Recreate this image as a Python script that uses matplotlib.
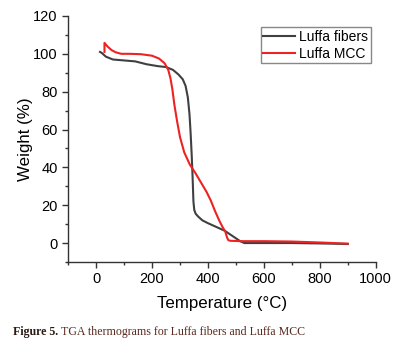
import matplotlib
matplotlib.use("Agg")
import matplotlib.pyplot as plt
from matplotlib.ticker import MultipleLocator

plt.rcParams['font.family'] = ['Liberation Sans', 'DejaVu Sans']

# Luffa fibers
fib_T = [14, 20, 35, 60, 100, 140, 180, 220, 250, 275, 295, 310, 320, 328, 334, 338, 342,
         345, 348, 351, 356, 365, 380, 400, 430, 460, 480, 500, 515, 530, 600, 700, 800, 900]
fib_W = [101, 100.5, 98.5, 97, 96.5, 96, 94.5, 93.5, 93, 91.5, 89, 86.5, 83, 77, 68, 58, 46,
         35, 22, 17.5, 15.5, 14, 12, 10.5, 8.5, 6.5, 4.5, 2.5, 1, 0, 0, 0, -0.2, -0.5]

# Luffa MCC
mcc_T = [30, 30, 40, 55, 70, 90, 120, 160, 200, 225, 245, 258, 266, 273, 280, 290, 300,
         315, 335, 355, 375, 395, 410, 425, 440, 452, 462, 468, 473, 480, 520, 600, 700, 800, 900]
mcc_W = [101, 105.8, 104, 102, 100.8, 100, 100, 99.8, 99, 97.5, 95, 91.5, 87, 81, 73, 64, 56,
         48, 41.5, 37, 32, 27, 22.5, 17, 12, 8.5, 6, 3, 1.5, 1.2, 1, 1, 0.8, 0.3, -0.3]

fig = plt.figure(figsize=(3.96, 3.47), dpi=100)
ax = fig.add_axes([0.172, 0.245, 0.777, 0.709])

ax.plot(fib_T, fib_W, color='#404040', lw=1.5, label='Luffa fibers')
ax.plot(mcc_T, mcc_W, color='#ee2222', lw=1.5, label='Luffa MCC')

ax.set_xlim(-100, 1000)
ax.set_ylim(-10, 120)
ax.xaxis.set_major_locator(MultipleLocator(200))
ax.xaxis.set_minor_locator(MultipleLocator(100))
ax.yaxis.set_major_locator(MultipleLocator(20))
ax.yaxis.set_minor_locator(MultipleLocator(10))
for s in ['top', 'right']:
    ax.spines[s].set_visible(False)
for s in ['left', 'bottom']:
    ax.spines[s].set_color('#333333')
    ax.spines[s].set_linewidth(1.0)
ax.tick_params(which='major', length=4, width=1, colors='#333333', labelsize=10.5, labelcolor='black')
ax.tick_params(which='minor', length=2, width=1, colors='#333333')

ax.set_xlabel('Temperature (°C)', fontsize=12.2, labelpad=7)
ax.set_ylabel('Weight (%)', fontsize=12.2, labelpad=0)

leg = ax.legend(loc='upper right', bbox_to_anchor=(0.985, 0.955), fontsize=10,
                fancybox=False, framealpha=1, edgecolor='#888888',
                handlelength=2.3, handletextpad=0.3, borderpad=0.2, labelspacing=0.2,
                borderaxespad=0)
leg.get_frame().set_linewidth(1.0)

t1 = fig.text(13 / 396, 1 - 335 / 347, 'Figure 5.', fontsize=8.6, fontweight='bold',
              family='Liberation Serif', color='#2a1a14')
fig.canvas.draw()
bb = t1.get_window_extent()
fig.text((bb.x1 + 3) / 396, 1 - 335 / 347, 'TGA thermograms for Luffa fibers and Luffa MCC',
         fontsize=8.6, family='Liberation Serif', color='#5a2a20')

fig.savefig('out.png', dpi=100)
